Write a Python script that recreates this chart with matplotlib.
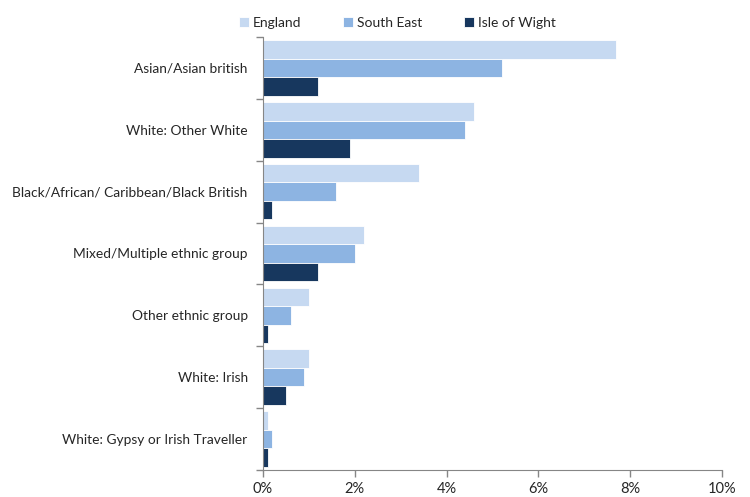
import matplotlib.pyplot as plt
import matplotlib.ticker as mticker
import numpy as np

categories = ['Asian/Asian british', 'White: Other White',
              'Black/African/ Caribbean/Black British',
              'Mixed/Multiple ethnic group', 'Other ethnic group',
              'White: Irish', 'White: Gypsy or Irish Traveller']
england = [7.7, 4.6, 3.4, 2.2, 1.0, 1.0, 0.1]
south_east = [5.2, 4.4, 1.6, 2.0, 0.6, 0.9, 0.2]
isle_of_wight = [1.2, 1.9, 0.2, 1.2, 0.1, 0.5, 0.1]
series = [('England', england, '#C6D9F1'),
          ('South East', south_east, '#8DB4E2'),
          ('Isle of Wight', isle_of_wight, '#17375E')]

plt.rcParams['font.family'] = ['Lato', 'DejaVu Sans']
plt.rcParams['text.color'] = '#262626'
fig = plt.figure(figsize=(7.5, 4.97), dpi=100)
ax = fig.add_axes([263 / 750, 1 - 470 / 497, (722 - 263) / 750, (470 - 37) / 497])

n = len(categories)
y = np.arange(n)
h = 0.3
for i, (name, vals, col) in enumerate(series):
    ax.barh(y - h + i * h, vals, height=h, color=col, edgecolor='white',
            linewidth=0.6, label=name)

ax.set_xlim(0, 10)
ax.set_ylim(n - 0.5, -0.5)
ax.xaxis.set_major_locator(mticker.MultipleLocator(2))
ax.xaxis.set_major_formatter(mticker.FuncFormatter(lambda v, p: f'{v:.0f}%'))

ax.set_yticks(y)
ax.set_yticklabels(categories, fontsize=9.9, color='#262626')
ax.tick_params(axis='y', length=0, pad=11)
ax.set_yticks(np.arange(n + 1) - 0.5, minor=True)
ax.tick_params(axis='y', which='minor', length=5, color='#868686', width=1)
ax.tick_params(axis='x', length=5, color='#868686', width=1, labelsize=10.5,
               labelcolor='#262626')

for s in ['top', 'right']:
    ax.spines[s].set_visible(False)
for s in ['left', 'bottom']:
    ax.spines[s].set_color('#868686')

ax.legend(loc='lower left', bbox_to_anchor=(-0.07, 1.0), ncol=3, frameon=False,
          fontsize=10, handlelength=0.7, handleheight=0.7, handletextpad=0.3,
          columnspacing=3.0, borderaxespad=0.2)

fig.savefig('out.png', dpi=100)
